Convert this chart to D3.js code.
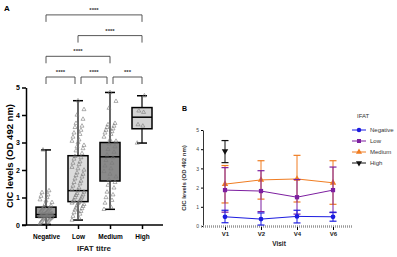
<!DOCTYPE html>
<html>
<head>
<meta charset="utf-8">
<script src="https://cdn.jsdelivr.net/npm/d3@7"></script>
<style>
  body { margin: 0; background: #fff; }
  text { font-family: "Liberation Sans", Arial, sans-serif; }
</style>
</head>
<body>
<script>
var w = 397;
var h = 257;

// ---- Panel A data ----
var groups = ["Negative", "Low", "Medium", "High"];
// min, q1, median, q3, max
var boxMin = [0.02, 0.18, 0.57, 2.98];
var boxQ1 = [0.28, 0.85, 1.6, 3.5];
var boxMed = [0.38, 1.25, 2.48, 3.92];
var boxQ3 = [0.65, 2.52, 3.0, 4.27];
var boxMax = [2.73, 4.52, 4.82, 4.7];
var boxFill = ["#9a9a9a", "#dcdcdc", "#8a8a8a", "#d4d4d4"];

var negPts = [0.05, 0.08, 0.1, 0.12, 0.15, 0.18, 0.2, 0.22, 0.24, 0.25, 0.27, 0.28, 0.3, 0.3, 0.32,
              0.33, 0.34, 0.35, 0.36, 0.37, 0.38, 0.38, 0.4, 0.41, 0.42, 0.44, 0.45, 0.47, 0.5, 0.52,
              0.55, 0.58, 0.6, 0.62, 0.65, 0.7, 0.75, 0.82, 0.88, 0.92, 1.0, 1.05, 1.1, 1.18, 1.25, 2.73];
var lowPts = [0.18, 0.25, 0.32, 0.4, 0.45, 0.5, 0.55, 0.6, 0.62, 0.68, 0.7, 0.75, 0.78, 0.8, 0.82,
              0.85, 0.88, 0.9, 0.95, 1.0, 1.02, 1.08, 1.1, 1.15, 1.2, 1.25, 1.3, 1.35, 1.42, 1.5,
              1.55, 1.6, 1.68, 1.75, 1.8, 1.85, 1.9, 2.0, 2.05, 2.1, 2.2, 2.25, 2.3, 2.4, 2.45,
              2.5, 2.6, 2.7, 2.78, 2.85, 2.9, 3.0, 3.05, 3.1, 3.2, 3.3, 3.35, 3.45, 3.55, 3.6,
              3.7, 3.85, 4.0, 4.2, 4.52];
var medPts = [0.57, 0.65, 0.8, 0.9, 1.0, 1.1, 1.2, 1.35, 1.45, 1.55, 1.65, 1.75, 1.85, 1.95, 2.05,
              2.15, 2.25, 2.35, 2.45, 2.55, 2.65, 2.75, 2.85, 2.95, 3.05, 3.1, 3.2, 3.3, 3.35, 3.4,
              3.45, 3.5, 3.55, 3.6, 3.65, 3.7, 4.25, 4.5, 4.82];
var highPts = [2.98, 3.6, 3.65, 4.1, 4.15, 4.7];
var allPts = [negPts, lowPts, medPts, highPts];

// significance comparisons
var compFrom = [0, 1, 0, 0, 1, 2];
var compTo = [3, 3, 2, 1, 2, 3];
var compLevel = [3, 2, 1, 0, 0, 0];
var compLabel = ["****", "****", "****", "****", "****", "***"];

// ---- Panel B data ----
var visits = ["V1", "V2", "V4", "V6"];
var seriesNames = ["Negative", "Low", "Medium", "High"];
var seriesColors = ["#1c1ce0", "#7d1fa0", "#f07d22", "#111111"];
var negMean = [0.48, 0.36, 0.5, 0.48];
var negLo = [0.17, 0.05, 0.16, 0.25];
var negHi = [0.82, 0.68, 0.82, 0.72];
var lowMean = [1.87, 1.82, 1.5, 1.87];
var lowLo = [0.72, 0.75, 0.62, 0.7];
var lowHi = [3.04, 2.88, 2.42, 3.07];
var medMean = [2.18, 2.4, 2.45, 2.25];
var medLo = [1.2, 1.4, 1.25, 1.13];
var medHi = [3.15, 3.4, 3.68, 3.4];
var highMean = [3.9];
var highLo = [3.3];
var highHi = [4.45];

var svg = d3.select("body").append("svg")
  .attr("width", w).attr("height", h);
svg.append("rect").attr("width", w).attr("height", h).attr("fill", "#fff");

// =============== Panel A ===============
var yA = d3.scaleLinear().domain([0, 5]).range([225, 87.5]);
var xA = d3.scalePoint().domain(groups).range([46, 142]);
var boxW = 20;

svg.append("text").attr("x", 4).attr("y", 11)
  .attr("font-size", 8).attr("font-weight", "bold").text("A");

// y axis
var gyA = svg.append("g").attr("transform", "translate(26,0)")
  .call(d3.axisLeft(yA).ticks(5).tickSize(4).tickSizeOuter(0).tickPadding(2));
gyA.select(".domain").attr("stroke-width", 1.5);
gyA.selectAll(".tick line").attr("stroke-width", 1.5);
gyA.selectAll(".tick text").attr("font-size", 7).attr("font-weight", "bold");

// x axis
svg.append("line").attr("x1", 22).attr("x2", 163).attr("y1", 225).attr("y2", 225)
  .attr("stroke", "#000").attr("stroke-width", 1.5);
var gxA = svg.append("g").attr("transform", "translate(0,225)")
  .call(d3.axisBottom(xA).tickSize(4).tickPadding(5));
gxA.select(".domain").remove();
gxA.selectAll(".tick line").attr("stroke-width", 1.5);
gxA.selectAll(".tick text").attr("font-size", 6.5).attr("font-weight", "bold");

svg.append("text").attr("x", 94).attr("y", 251).attr("text-anchor", "middle")
  .attr("font-size", 8).attr("font-weight", "bold").attr("fill", "#222").text("IFAT titre");
svg.append("text").attr("transform", "translate(13,156) rotate(-90)")
  .attr("text-anchor", "middle").attr("font-size", 9.5).attr("font-weight", "bold")
  .text("CIC levels (OD 492 nm)");

// boxes
groups.forEach(function(g, i) {
  var cx = xA(g);
  var gg = svg.append("g");
  gg.append("line").attr("x1", cx).attr("x2", cx)
    .attr("y1", yA(boxMin[i])).attr("y2", yA(boxMax[i]))
    .attr("stroke", "#000").attr("stroke-width", 1.2);
  [boxMin[i], boxMax[i]].forEach(function(v) {
    gg.append("line").attr("x1", cx - 5).attr("x2", cx + 5)
      .attr("y1", yA(v)).attr("y2", yA(v))
      .attr("stroke", "#000").attr("stroke-width", 1.5);
  });
  gg.append("rect").attr("x", cx - boxW / 2).attr("width", boxW)
    .attr("y", yA(boxQ3[i])).attr("height", yA(boxQ1[i]) - yA(boxQ3[i]))
    .attr("fill", boxFill[i]).attr("stroke", "#000").attr("stroke-width", 1.5);
  gg.append("line").attr("x1", cx - boxW / 2).attr("x2", cx + boxW / 2)
    .attr("y1", yA(boxMed[i])).attr("y2", yA(boxMed[i]))
    .attr("stroke", "#000").attr("stroke-width", 1.5);
});

// points
var tri = d3.symbol().type(d3.symbolTriangle).size(7);
allPts.forEach(function(pts, i) {
  var cx = xA(groups[i]);
  svg.append("g").selectAll("path")
    .data(pts).enter().append("path")
    .attr("d", tri)
    .attr("transform", function(d, j) {
      var dx = ((j * 7) % 13 - 6) * (i == 3 ? 0.8 : 1.0);
      return "translate(" + (cx + dx) + "," + yA(d) + ")";
    })
    .attr("fill", "none").attr("stroke", "#7a7a7a").attr("stroke-width", 0.6);
});

// brackets
compFrom.forEach(function(a, k) {
  var b = compTo[k];
  var yy = 77 - compLevel[k] * 20.7;
  var x1 = xA(groups[a]), x2 = xA(groups[b]);
  if (compLevel[k] == 0) {
    if (a > 0) x1 += 3;
    if (b < 3) x2 -= 3;
  }
  svg.append("path")
    .attr("d", "M" + x1 + "," + (yy + 7) + "V" + yy + "H" + x2 + "V" + (yy + 7))
    .attr("fill", "none").attr("stroke", "#444").attr("stroke-width", 0.9);
  svg.append("text").attr("x", (x1 + x2) / 2).attr("y", yy - 3)
    .attr("text-anchor", "middle").attr("font-size", 6).attr("font-weight", "bold")
    .attr("fill", "#333").text(compLabel[k]);
});

// =============== Panel B ===============
var yB = d3.scaleLinear().domain([0, 5]).range([226, 130]);
var xB = d3.scalePoint().domain(visits).range([225, 333]);

svg.append("text").attr("x", 182).attr("y", 111)
  .attr("font-size", 7).attr("font-weight", "bold").text("B");

var gyB = svg.append("g").attr("transform", "translate(203,0)")
  .call(d3.axisLeft(yB).ticks(5).tickSize(2).tickSizeOuter(0).tickPadding(2));
gyB.select(".domain").attr("stroke-width", 0.8);
gyB.selectAll(".tick text").attr("font-size", 5).attr("fill", "#444");

svg.append("line").attr("x1", 201).attr("x2", 352).attr("y1", 226.5).attr("y2", 226.5)
  .attr("stroke", "#999").attr("stroke-width", 2.5).attr("stroke-dasharray", "1,1");
var gxB = svg.append("g").attr("transform", "translate(0,227)")
  .call(d3.axisBottom(xB).tickSize(3).tickPadding(2));
gxB.select(".domain").remove();
gxB.selectAll(".tick text").attr("font-size", 6).attr("font-weight", "bold").attr("fill", "#222");

svg.append("text").attr("x", 279).attr("y", 246).attr("text-anchor", "middle")
  .attr("font-size", 6.5).attr("font-weight", "bold").attr("fill", "#222").text("Visit");
svg.append("text").attr("transform", "translate(186,178) rotate(-90)")
  .attr("text-anchor", "middle").attr("font-size", 6).attr("font-weight", "bold")
  .attr("fill", "#333").text("CIC levels (OD 492 nm)");

var means = [negMean, lowMean, medMean, highMean];
var los = [negLo, lowLo, medLo, highLo];
var his = [negHi, lowHi, medHi, highHi];
var shapes = [d3.symbolCircle, d3.symbolSquare, d3.symbolTriangle, d3.symbolTriangle];
var shapeRot = [0, 0, 0, 180];

var line = d3.line()
  .x(function(d) { return xB(d.v); })
  .y(function(d) { return yB(d.m); });

[2, 1, 0, 3].forEach(function(s) {
  var col = seriesColors[s];
  var pts = means[s].map(function(m, j) {
    return { v: visits[j], m: m, lo: los[s][j], hi: his[s][j] };
  });
  var g = svg.append("g");
  g.append("path").datum(pts).attr("d", line)
    .attr("fill", "none").attr("stroke", col).attr("stroke-width", 1);
  pts.forEach(function(p) {
    var cx = xB(p.v);
    g.append("line").attr("x1", cx).attr("x2", cx)
      .attr("y1", yB(p.lo)).attr("y2", yB(p.hi))
      .attr("stroke", col).attr("stroke-width", 1);
    [p.lo, p.hi].forEach(function(v) {
      g.append("line").attr("x1", cx - 3.5).attr("x2", cx + 3.5)
        .attr("y1", yB(v)).attr("y2", yB(v))
        .attr("stroke", col).attr("stroke-width", 1.2);
    });
    g.append("path").attr("d", d3.symbol().type(shapes[s]).size(18))
      .attr("transform", "translate(" + cx + "," + yB(p.m) + ") rotate(" + shapeRot[s] + ")")
      .attr("fill", col);
  });
});

// legend
svg.append("text").attr("x", 357).attr("y", 118)
  .attr("font-size", 6).attr("fill", "#333").text("IFAT");
seriesNames.forEach(function(n, s) {
  var yy = 130 + s * 11;
  var col = seriesColors[s];
  svg.append("line").attr("x1", 352).attr("x2", 366).attr("y1", yy).attr("y2", yy)
    .attr("stroke", col).attr("stroke-width", 1);
  svg.append("path").attr("d", d3.symbol().type(shapes[s]).size(16))
    .attr("transform", "translate(359," + yy + ") rotate(" + shapeRot[s] + ")")
    .attr("fill", col);
  svg.append("text").attr("x", 370).attr("y", yy + 2)
    .attr("font-size", 6).attr("fill", "#333").text(n);
});
</script>
</body>
</html>
